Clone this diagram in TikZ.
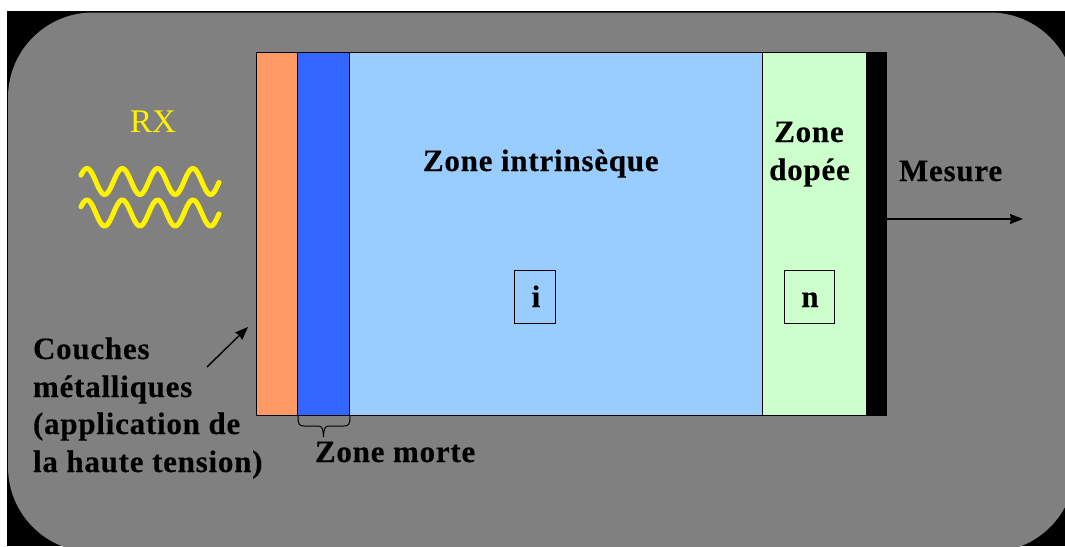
\documentclass[tikz,border=0pt]{standalone}
\usepackage{fontspec}
\setmainfont[LetterSpace=2.5,BoldFeatures={FakeBold=0.25}]{Liberation Serif}
\newfontfamily\rxfont{Liberation Serif}
\usetikzlibrary{arrows.meta}
\definecolor{panelgray}{HTML}{808080}
\definecolor{metalorange}{HTML}{FF9966}
\definecolor{deadblue}{HTML}{3366FF}
\definecolor{intrblue}{HTML}{99CCFF}
\definecolor{dopedgreen}{HTML}{CCFFCC}
\tikzset{
  layer/.style={draw=black,line width=1pt,anchor=north west,inner sep=0pt,outer sep=0pt,minimum height=363pt},
  lbl/.style={anchor=base west,inner sep=0pt,outer sep=0pt,font=\fontsize{31}{36}\selectfont\bfseries,text=black},
  lblc/.style={anchor=base,inner sep=0pt,outer sep=0pt,font=\fontsize{31}{36}\selectfont\bfseries,text=black},
  markbox/.style={draw=black,line width=1pt,inner sep=0pt,outer sep=0pt},
  wave/.style={draw=yellow,line width=5pt,line cap=round,line join=round},
  pointer/.style={draw=black,line width=1.4pt,-{Stealth[length=13pt,width=10pt,inset=1pt]}},
}
\begin{document}
\begin{tikzpicture}[x=1pt,y=-1pt]
\useasboundingbox (0,0) rectangle (1065,546);
\clip (0,0) rectangle (1065,546);
\fill[white] (0,0) rectangle (1065,546);
\fill[black] (7,11) rectangle (1065,546);
\fill[panelgray,rounded corners=85pt] (8,12.5) rectangle (1075,552);
% layers
\node[layer,fill=metalorange,minimum width=41pt] (metal) at (256.9,52.9) {};
\node[layer,fill=deadblue,minimum width=52pt] (dead) at (297.9,52.9) {};
\node[layer,fill=intrblue,minimum width=413pt] (intr) at (349.9,52.9) {};
\node[layer,fill=dopedgreen,minimum width=104pt] (doped) at (762.9,52.9) {};
\node[layer,fill=black,minimum width=20pt] (contact) at (866.9,52.9) {};
% boxes
\node[markbox,minimum width=41pt,minimum height=53pt] (ibox) at (535.4,297.4) {};
\node[markbox,minimum width=50pt,minimum height=53pt] (nbox) at (809.9,297.4) {};
\node[lblc] (itext) at (536,307) {i};
\node[lblc] (ntext) at (810,307) {n};
% labels
\node[lbl] (zi) at (423,171) {Zone intrinsèque};
\node[lblc] (zone) at (809,142) {Zone};
\node[lblc] (dopee) at (809.5,180) {dopée};
\node[lbl] (mesure) at (899,181) {Mesure};
\node[lbl] (c1) at (33,359) {Couches};
\node[lbl] (c2) at (33,397) {métalliques};
\node[lbl] (c3) at (33,434) {(application de};
\node[lbl] (c4) at (33,472) {la haute tension)};
\node[lbl] (zm) at (315,462) {Zone morte};
\node[anchor=base west,inner sep=0pt,text=yellow,font=\fontsize{33}{36}\selectfont\rxfont] (rx) at (130,132) {RX};
% waves
\draw[wave] plot[samples=120,domain=81:219] (\x,{181.5-13*cos(10.198*(\x-87))});
\draw[wave] plot[samples=120,domain=81:219] (\x,{213-13*cos(10.198*(\x-87))});
% arrows
\coordinate (mesureend) at (1023,219);
\coordinate (mesurestart) at (887,219);
\draw[pointer] (mesurestart) -- (mesureend);
\coordinate (metalfrom) at (207,367);
\coordinate (metalto) at (248,327);
\draw[pointer] (metalfrom) -- (metalto);
% brace
\coordinate (bl) at (298,416);
\coordinate (br) at (350,416);
\coordinate (bt) at (323.5,437);
\draw[black,line width=1pt] (bl) .. controls (298,424) and (299,426) .. (304,426)
  -- (318,426) .. controls (322,426) and (323,428) .. (bt)
  (br) .. controls (350,424) and (349,426) .. (344,426)
  -- (329,426) .. controls (325,426) and (324,428) .. (bt);
\end{tikzpicture}
\end{document}
